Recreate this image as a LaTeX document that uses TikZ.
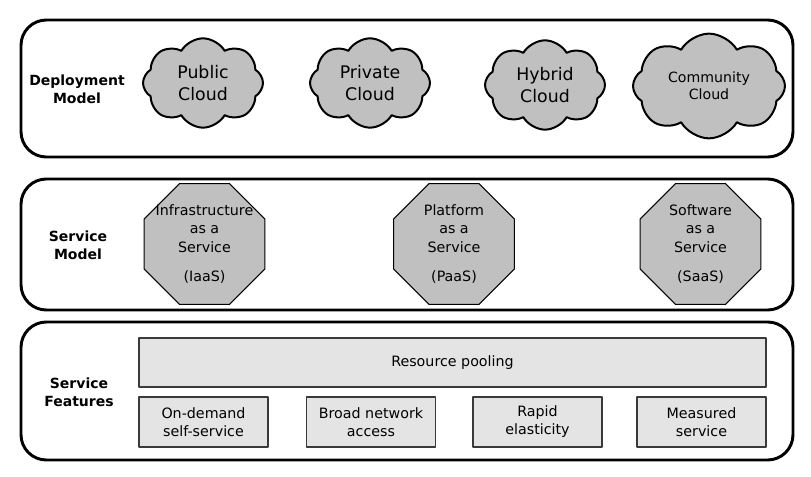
\documentclass[tikz,border=0pt]{standalone}
\usepackage{fontspec}
\setmainfont{DejaVu Sans}
\usetikzlibrary{shapes.geometric,shapes.symbols}
\definecolor{puffgray}{HTML}{C0C0C0}
\definecolor{boxgray}{HTML}{E4E4E4}
\definecolor{edgegray}{HTML}{3A3A3A}
\tikzset{every picture/.style={line join=round}}

\begin{document}
\begin{tikzpicture}[
    x=0.75pt, y=-0.75pt,
    panel/.style={draw, line width=2.2pt, rounded corners=19pt},
    layer/.style={font=\bfseries\fontsize{10.5}{13.5}\selectfont, align=center},
    deploy/.style={cloud, cloud puffs=8, cloud puff arc=120, aspect=1.35,
        draw, line width=1.5pt, fill=puffgray, inner sep=0pt,
        minimum width=90pt, minimum height=67pt, align=center,
        font=\fontsize{13}{16.5}\selectfont},
    servicebox/.style={regular polygon, regular polygon sides=8, draw=black,
        line width=0.8pt, fill=puffgray, inner sep=0pt, minimum size=98pt,
        align=center, font=\fontsize{10.7}{14}\selectfont},
    featurebox/.style={draw=edgegray, line width=1.1pt, fill=boxgray,
        minimum width=97pt, minimum height=37.5pt, inner sep=0pt,
        align=center, font=\fontsize{10.7}{13.5}\selectfont}
]
    \useasboundingbox (0,0) rectangle (811,477);

    % layers
    \draw[panel] (21,20) rectangle (793,157);
    \draw[panel] (21,179) rectangle (793,310);
    \draw[panel] (21,322) rectangle (793,460);

    \node[layer] (deploylbl) at (77,89) {Deployment\\Model};
    \node[layer] (servicelbl) at (78,245) {Service\\Model};
    \node[layer] (featurelbl) at (79,392) {Service\\Features};

    % deployment models
    \node[deploy] (public) at (203,83) {Public\\Cloud};
    \node[deploy] (private) at (370,83) {Private\\Cloud};
    \node[deploy] (hybrid) at (545,85) {Hybrid\\Cloud};
    \node[deploy, minimum width=114pt, font=\fontsize{10.6}{13}\selectfont]
        (community) at (709,86) {Community\\Cloud};

    % service models
    \node[servicebox] (iaas) at (204.5,244)
        {\makebox[50pt]{Infrastructure}\\as a\\Service\\[8pt](IaaS)};
    \node[servicebox] (paas) at (454,244) {Platform\\as a\\Service\\[8pt](PaaS)};
    \node[servicebox] (saas) at (700.5,244) {Software\\as a\\Service\\[8pt](SaaS)};

    % features
    \node[featurebox, minimum width=470pt, minimum height=37pt]
        (pooling) at (452.5,362.5) {Resource pooling};
    \node[featurebox] (ondemand) at (203.5,422) {On-demand\\self-service};
    \node[featurebox] (network) at (371,422) {Broad network\\access};
    \node[featurebox] (elastic) at (537.5,422) {Rapid\\elasticity};
    \node[featurebox] (measured) at (701.5,422) {Measured\\service};
\end{tikzpicture}
\end{document}
